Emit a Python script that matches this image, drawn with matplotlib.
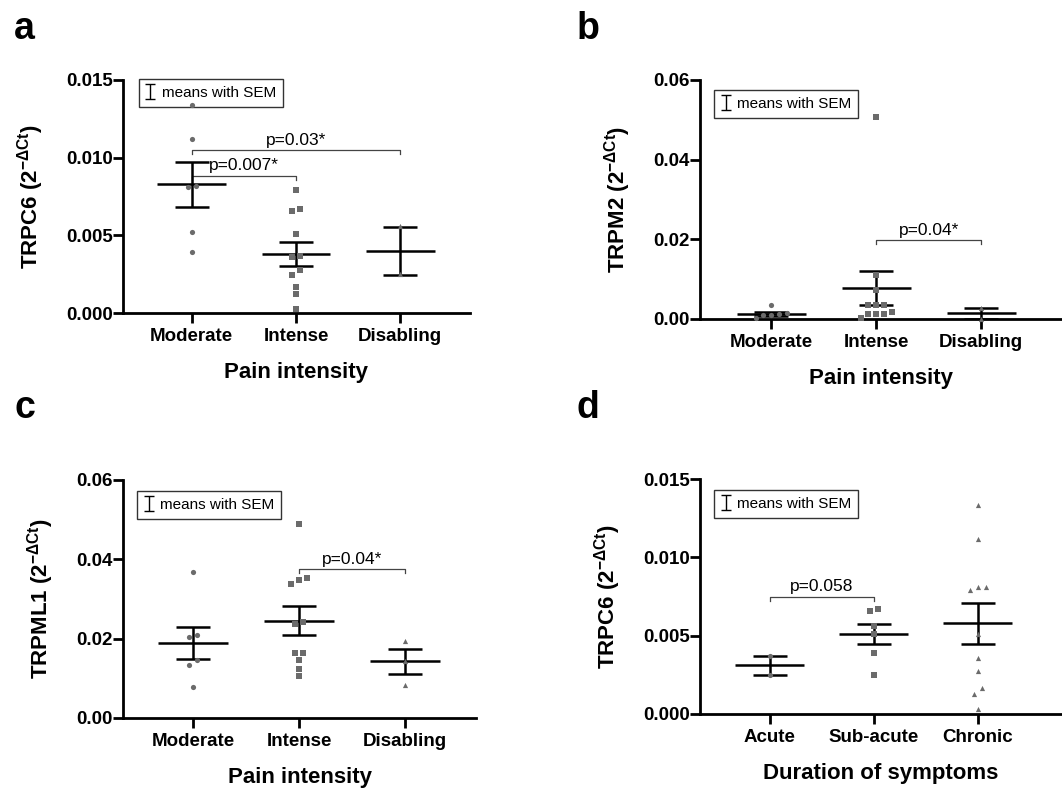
import numpy as np
import matplotlib
matplotlib.use("Agg")
import matplotlib.pyplot as plt

plt.rcParams['font.family'] = ['Liberation Sans', 'DejaVu Sans']
plt.rcParams['mathtext.fontset'] = 'custom'
plt.rcParams['mathtext.rm'] = 'Liberation Sans'
plt.rcParams['mathtext.bf'] = 'Liberation Sans:bold'

# -----------------------------------------------------------------------------
# Data
# -----------------------------------------------------------------------------
cats_pain = ["Moderate", "Intense", "Disabling"]
cats_dur = ["Acute", "Sub-acute", "Chronic"]

# a: TRPC6 vs pain intensity
trpc6_pain = [
    [0.0134, 0.0112, 0.0082, 0.0081, 0.0052, 0.0039],
    [0.0079, 0.0067, 0.00656, 0.00506, 0.00364, 0.0036, 0.00274, 0.00246,
     0.00167, 0.00124, 0.00026],
    [0.0056, 0.0025],
]
trpc6_pain_mean = [0.0083, 0.0038, 0.0040]
trpc6_pain_sem = [0.00145, 0.00075, 0.00155]

# b: TRPM2 vs pain intensity
trpm2_pain = [
    [0.0035, 0.0016, 0.0012, 0.0011, 0.0010, 0.0002],
    [0.0508, 0.0111, 0.0073, 0.0035, 0.0035, 0.0035, 0.0017, 0.0013, 0.0013,
     0.0013, 0.0002],
    [0.0027, 0.0001],
]
trpm2_pain_mean = [0.0013, 0.0077, 0.0014]
trpm2_pain_sem = [0.0005, 0.0043, 0.0013]

# c: TRPML1 vs pain intensity
trpml1_pain = [
    [0.0367, 0.0208, 0.0203, 0.0146, 0.0134, 0.0078],
    [0.0488, 0.0353, 0.0347, 0.0337, 0.0243, 0.0237, 0.0165, 0.0164, 0.0146,
     0.0124, 0.0107],
    [0.0193, 0.0143, 0.0084],
]
trpml1_pain_mean = [0.0189, 0.0245, 0.0143]
trpml1_pain_sem = [0.0041, 0.0037, 0.0032]

# d: TRPC6 vs duration of symptoms
trpc6_dur = [
    [0.0037, 0.0025],
    [0.0067, 0.00655, 0.0056, 0.0051, 0.0039, 0.0025],
    [0.01336, 0.01117, 0.0081, 0.0081, 0.0079, 0.0051, 0.00357, 0.00277,
     0.00166, 0.00126, 0.0003],
]
trpc6_dur_mean = [0.0031, 0.0051, 0.0058]
trpc6_dur_sem = [0.0006, 0.00065, 0.0013]

# brackets: (group i, group j, height, text)
brackets_a = [(0, 2, 0.0105, "p=0.03*"), (0, 1, 0.00885, "p=0.007*")]
brackets_b = [(1, 2, 0.0198, "p=0.04*")]
brackets_c = [(1, 2, 0.0376, "p=0.04*")]
brackets_d = [(0, 1, 0.0075, "p=0.058")]

MARKERS = ['o', 's', '^']
GREY = '#6b6b6b'
W, H = 1062, 790


def swarm_offsets(vals, ymax, tol=0.028, step=0.075):
    """Spread points whose values are close (simple beeswarm)."""
    order = np.argsort(vals)
    v = np.asarray(vals)[order]
    offs = np.zeros(len(v))
    clusters, cur = [], [0]
    for k in range(1, len(v)):
        if (v[k] - v[k - 1]) / ymax < tol:
            cur.append(k)
        else:
            clusters.append(cur)
            cur = [k]
    clusters.append(cur)
    for cl in clusters:
        n = len(cl)
        for j, k in enumerate(cl):
            offs[k] = (j - (n - 1) / 2) * step
    out = np.zeros(len(v))
    out[order] = offs
    return out


def panel(rect_px, groups, means, sems, cats, ylim, yticks, fmt, ylabel,
          xlabel, xlim, brackets, legend_pos):
    l, r, t, b = rect_px
    ax = plt.gcf().add_axes([l / W, 1 - b / H, (r - l) / W, (b - t) / H])
    for i, vals in enumerate(groups):
        x = i + swarm_offsets(vals, ylim[1])
        ax.scatter(x, vals, marker=MARKERS[i], s=14, color=GREY,
                   linewidths=0, zorder=6, clip_on=False)
    xs = np.arange(len(cats))
    ax.errorbar(xs, means, yerr=sems, fmt='none', ecolor='black',
                elinewidth=1.8, capsize=12, capthick=1.8, zorder=3)
    ax.hlines(means, xs - 0.33, xs + 0.33, color='black', lw=1.8, zorder=3)

    drop = 0.018 * (ylim[1] - ylim[0])
    for i, j, y, txt in brackets:
        ax.plot([i, i, j, j], [y - drop, y, y, y - drop], color='#444444',
                lw=0.9, zorder=1)
        ax.annotate(txt, ((i + j) / 2, y), xytext=(0, 1.5),
                    textcoords='offset points', ha='center', va='bottom',
                    fontsize=12.5)

    # legend proxy: off-screen point so that the caps exist
    proxy = ax.errorbar([np.nan], [np.nan], yerr=[1.0], fmt='none',
                        ecolor='black', elinewidth=1.0, capsize=3.5,
                        capthick=1.0, label='means with SEM')
    leg = ax.legend(handles=[proxy], loc='upper left',
                    bbox_to_anchor=legend_pos, fontsize=11, frameon=True,
                    fancybox=False, handlelength=0.6, handletextpad=0.45,
                    borderpad=0.45, borderaxespad=0)
    leg.get_frame().set_edgecolor('black')
    leg.get_frame().set_linewidth(1.0)
    leg.set_zorder(5)

    ax.set_xlim(*xlim)
    ax.set_ylim(*ylim)
    ax.set_xticks(xs)
    ax.set_xticklabels(cats, fontsize=13.5, fontweight='bold')
    ax.set_yticks(yticks)
    ax.set_yticklabels([fmt % v for v in yticks], fontsize=13.5,
                       fontweight='bold')
    ax.tick_params(width=2, length=7)
    ax.tick_params(axis='y', pad=0.5)
    ax.tick_params(axis='x', pad=4)
    for s in ['top', 'right']:
        ax.spines[s].set_visible(False)
    for s in ['left', 'bottom']:
        ax.spines[s].set_linewidth(2)
    ax.set_xlabel(xlabel, fontsize=16, fontweight='bold', labelpad=12)
    ax.set_ylabel(ylabel, fontsize=16, fontweight='bold', labelpad=14.5)
    return ax


fig = plt.figure(figsize=(W / 100, H / 100), dpi=100)

sup = r'$^{\mathregular{-\Delta Ct}}$'
panel((123, 470, 80, 313), trpc6_pain, trpc6_pain_mean, trpc6_pain_sem,
      cats_pain, (0, 0.015), [0, 0.005, 0.010, 0.015], '%.3f',
      'TRPC6 (2' + sup + ')', 'Pain intensity', (-0.66, 2.67), brackets_a,
      (0.046, 1.004))
panel((700, 1062, 80, 319), trpm2_pain, trpm2_pain_mean, trpm2_pain_sem,
      cats_pain, (0, 0.06), [0, 0.02, 0.04, 0.06], '%.2f',
      'TRPM2 (2' + sup + ')', 'Pain intensity', (-0.68, 2.77), brackets_b,
      (0.039, 0.958))
panel((123, 476, 480, 718), trpml1_pain, trpml1_pain_mean, trpml1_pain_sem,
      cats_pain, (0, 0.06), [0, 0.02, 0.04, 0.06], '%.2f',
      'TRPML1 (2' + sup + ')', 'Pain intensity', (-0.66, 2.67), brackets_c,
      (0.04, 0.954))
panel((700, 1062, 479, 714), trpc6_dur, trpc6_dur_mean, trpc6_dur_sem,
      cats_dur, (0, 0.015), [0, 0.005, 0.010, 0.015], '%.3f',
      'TRPC6 (2' + sup + ')', 'Duration of symptoms', (-0.67, 2.81),
      brackets_d, (0.039, 0.953))

for letter, x, y in [('a', 14, 39), ('b', 577, 39), ('c', 14, 418),
                     ('d', 577, 418)]:
    fig.text(x / W, 1 - y / H, letter, fontsize=27, fontweight='bold',
             va='baseline', ha='left')

fig.savefig('out.png', dpi=100)
